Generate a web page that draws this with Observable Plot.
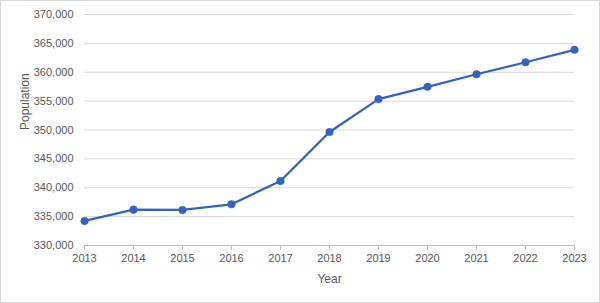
<!DOCTYPE html>
<html>
<head>
<meta charset="utf-8">
<script src="https://cdn.jsdelivr.net/npm/d3@7"></script>
<script src="https://cdn.jsdelivr.net/npm/@observablehq/plot@0.6"></script>
<style>
  html, body { margin: 0; padding: 0; background: #fff; }
  #chart svg { display: block; outline: 1px solid #d9d9d9; outline-offset: -1px; }
</style>
</head>
<body>
<div id="chart"></div>
<script>
const years = [2013, 2014, 2015, 2016, 2017, 2018, 2019, 2020, 2021, 2022, 2023];
const population = [334250, 336210, 336150, 337130, 341170, 349650, 355350, 357480, 359650, 361730, 363890];
const yTicks = [330000, 335000, 340000, 345000, 350000, 355000, 360000, 365000, 370000];
const xLabel = "Year";
const yLabel = "Population";

const data = years.map((year, i) => ({year, population: population[i]}));

const blue = "#3462c2";
const textColor = "#595959";

const chart = Plot.plot({
  width: 600,
  height: 303,
  marginLeft: 84,
  marginRight: 26,
  marginTop: 14,
  marginBottom: 58,
  style: {fontFamily: "'Liberation Sans', Arial, sans-serif", fontSize: "11px", color: textColor, background: "#fff"},
  x: {domain: [2013, 2023], ticks: years, tickFormat: "d"},
  y: {domain: [330000, 370000], ticks: yTicks, tickFormat: d3.format(",")},
  marks: [
    Plot.gridY(yTicks, {stroke: "#d9d9d9", strokeOpacity: 1, strokeWidth: 1}),
    Plot.axisY({ticks: yTicks, tickFormat: d3.format(","), tickSize: 0, tickPadding: 11, label: null, fill: textColor, fontSize: 11}),
    Plot.axisX({ticks: years, tickFormat: "d", tickSize: 5, tickPadding: 4, stroke: "#bfbfbf", label: null, fill: textColor}),
    Plot.ruleY([330000], {stroke: "#bfbfbf"}),
    Plot.text([xLabel], {frameAnchor: "bottom", dy: 34, text: d => d, fill: textColor, fontSize: 12, lineAnchor: "middle"}),
    Plot.text([yLabel], {frameAnchor: "left", dx: -59, rotate: -90, text: d => d, fill: textColor, fontSize: 12, lineAnchor: "middle"}),
    Plot.line(data, {x: "year", y: "population", stroke: blue, strokeWidth: 2.25}),
    Plot.dot(data, {x: "year", y: "population", fill: blue, r: 3.8, stroke: blue, strokeWidth: 0.5})
  ]
});
document.getElementById("chart").appendChild(chart);
</script>
</body>
</html>
